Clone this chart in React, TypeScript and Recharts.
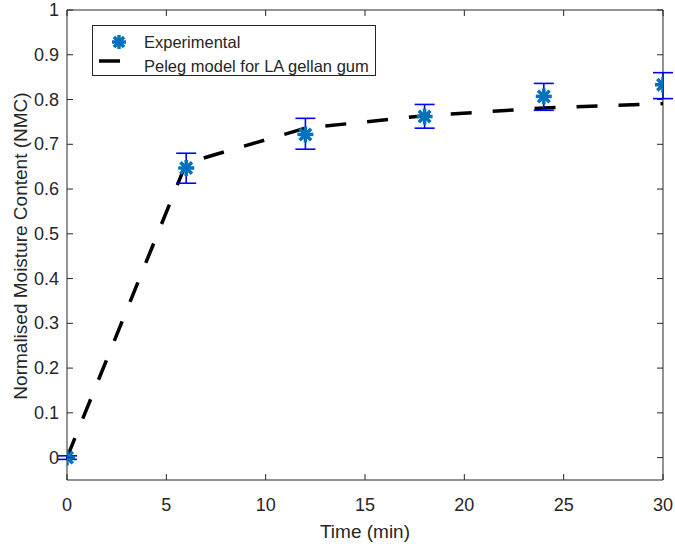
import React from "react";
import {
  ComposedChart,
  Line,
  Scatter,
  XAxis,
  YAxis,
  ErrorBar,
  ReferenceLine,
} from "recharts";

// experimental sampling times (min)
const timeMin = [0, 6, 12, 18, 24, 30];
// measured NMC and error bar limits
const nmcExperimental = [0.0, 0.647, 0.722, 0.762, 0.807, 0.833];
const nmcLow = [-0.004, 0.613, 0.689, 0.736, 0.776, 0.802];
const nmcHigh = [0.004, 0.68, 0.758, 0.789, 0.836, 0.86];
// Peleg fit evaluated at the same times
const nmcPeleg = [0, 0.658, 0.736, 0.764, 0.781, 0.791];

const xTicks = [0, 5, 10, 15, 20, 25, 30];
const yTicks = [0, 0.1, 0.2, 0.3, 0.4, 0.5, 0.6, 0.7, 0.8, 0.9, 1];

const W = 675;
const H = 547;
const MARGIN = { top: 10, right: 12, bottom: 0, left: 0 };
const Y_AXIS_W = 67;
const X_AXIS_H = 67;
const PLOT_LEFT = MARGIN.left + Y_AXIS_W;
const PLOT_RIGHT = W - MARGIN.right;
const PLOT_TOP = MARGIN.top;
const PLOT_BOTTOM = H - MARGIN.bottom - X_AXIS_H;

const FONT = "'Liberation Sans', Arial, Helvetica, sans-serif";
const INK = "#262626";
const MARKER = "#0072BD";
const TICK_LEN = 6;
const TICK_FONT = 18;

const expData = timeMin.map((t, i) => ({
  t,
  nmc: nmcExperimental[i],
  err: [nmcExperimental[i] - nmcLow[i], nmcHigh[i] - nmcExperimental[i]],
}));
const pelegData = timeMin.map((t, i) => ({ t, peleg: nmcPeleg[i] }));

const fmtY = (v: number) => (v === 0 ? "0" : v === 1 ? "1" : v.toFixed(1));

const XTick = (props: any) => {
  const { x, payload } = props;
  return (
    <g>
      <line x1={x} x2={x} y1={PLOT_BOTTOM} y2={PLOT_BOTTOM - TICK_LEN} stroke={INK} />
      <line x1={x} x2={x} y1={PLOT_TOP} y2={PLOT_TOP + TICK_LEN} stroke={INK} />
      <text x={x} y={PLOT_BOTTOM + 31} textAnchor="middle" fontSize={TICK_FONT} fill={INK} fontFamily={FONT}>
        {payload.value}
      </text>
    </g>
  );
};

const YTick = (props: any) => {
  const { y, payload } = props;
  return (
    <g>
      <line x1={PLOT_LEFT} x2={PLOT_LEFT + TICK_LEN} y1={y} y2={y} stroke={INK} />
      <line x1={PLOT_RIGHT} x2={PLOT_RIGHT - TICK_LEN} y1={y} y2={y} stroke={INK} />
      <text x={PLOT_LEFT - 8} y={y + 6} textAnchor="end" fontSize={TICK_FONT} fill={INK} fontFamily={FONT}>
        {fmtY(payload.value)}
      </text>
    </g>
  );
};

const Asterisk = ({ cx, cy, r = 8, color = MARKER }: any) => (
  <g stroke={color} strokeWidth={3.5}>
    <line x1={cx - r} x2={cx + r} y1={cy} y2={cy} />
    <line x1={cx} x2={cx} y1={cy - r} y2={cy + r} />
    <line x1={cx - r * 0.72} x2={cx + r * 0.72} y1={cy - r * 0.72} y2={cy + r * 0.72} />
    <line x1={cx - r * 0.72} x2={cx + r * 0.72} y1={cy + r * 0.72} y2={cy - r * 0.72} />
  </g>
);

const LegendBox = () => (
  <svg width={285} height={51} style={{ display: "block" }}>
    <rect x={0.5} y={0.5} width={283} height={50} fill="#fff" stroke={INK} />
    <Asterisk cx={27} cy={17} r={7} />
    <line x1={7} x2={28} y1={36} y2={36} stroke="#000" strokeWidth={3.5} />
    <text x={52} y={23} fontSize={16.5} fill={INK} fontFamily={FONT}>
      Experimental
    </text>
    <text x={52} y={47} fontSize={16.5} fill={INK} fontFamily={FONT}>
      Peleg model for LA gellan gum
    </text>
  </svg>
);

export default function App() {
  return (
    <div style={{ position: "absolute", left: 0, top: 0, width: W, height: H, background: "#fff" }}>
      <ComposedChart width={W} height={H} margin={MARGIN}>
        <XAxis
          dataKey="t"
          type="number"
          domain={[0, 30]}
          ticks={xTicks}
          height={X_AXIS_H}
          tickLine={false}
          tick={<XTick />}
          axisLine={{ stroke: INK }}
          allowDataOverflow
        />
        <YAxis
          type="number"
          domain={[-0.05, 1]}
          ticks={yTicks}
          width={Y_AXIS_W}
          tickLine={false}
          tick={<YTick />}
          axisLine={{ stroke: INK }}
          allowDataOverflow
        />
        <ReferenceLine y={1} stroke={INK} />
        <ReferenceLine x={30} stroke={INK} />
        <Line
          data={pelegData}
          dataKey="peleg"
          type="linear"
          stroke="#000"
          strokeWidth={3.5}
          strokeDasharray="21 21"
          dot={false}
          activeDot={false}
          isAnimationActive={false}
        />
        <Scatter
          data={expData}
          dataKey="nmc"
          fill={MARKER}
          shape={(p: any) => <Asterisk cx={p.cx} cy={p.cy} />}
          isAnimationActive={false}
        >
          <ErrorBar dataKey="err" width={10} stroke="#0000FF" strokeWidth={1.6} direction="y" />
        </Scatter>
      </ComposedChart>
      <div style={{ position: "absolute", left: 92, top: 25 }}>
        <LegendBox />
      </div>
      <div
        style={{
          position: "absolute",
          left: PLOT_LEFT,
          width: PLOT_RIGHT - PLOT_LEFT,
          top: 521,
          textAlign: "center",
          fontFamily: FONT,
          fontSize: 19,
          lineHeight: "22px",
          color: INK,
        }}
      >
        Time (min)
      </div>
      <div
        style={{
          position: "absolute",
          left: 21,
          top: 246,
          transform: "translate(-50%, -50%) rotate(-90deg)",
          whiteSpace: "nowrap",
          fontFamily: FONT,
          fontSize: 19,
          lineHeight: "22px",
          color: INK,
        }}
      >
        Normalised Moisture Content (NMC)
      </div>
    </div>
  );
}
